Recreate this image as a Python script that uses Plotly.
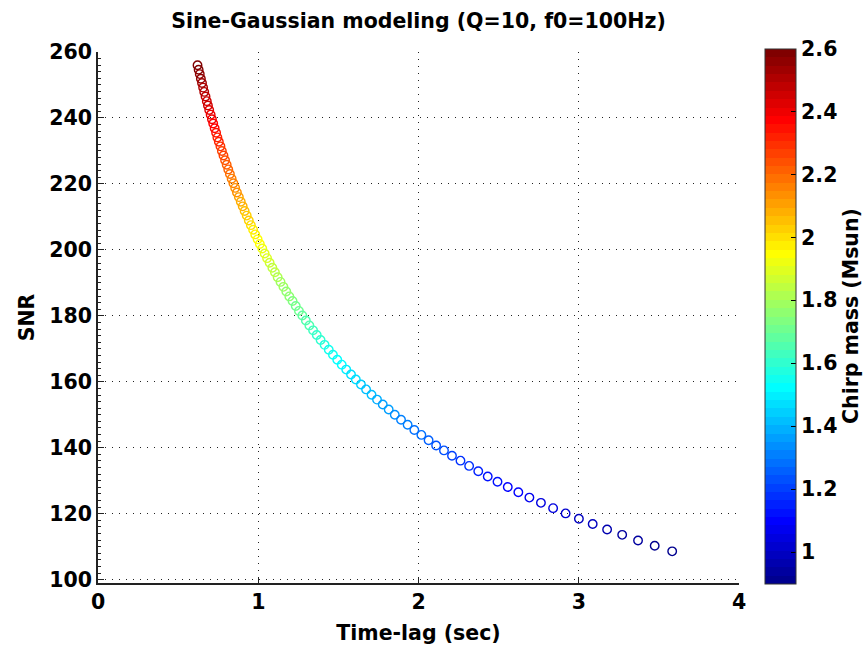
import plotly.graph_objects as go

# ---- data ----
time_lag = [
    0.621, 0.628, 0.635, 0.642, 0.649, 0.656, 0.663, 0.671, 0.679, 0.686,
    0.694, 0.703, 0.711, 0.719, 0.728, 0.737, 0.745, 0.754, 0.764, 0.773,
    0.783, 0.793, 0.803, 0.813, 0.823, 0.834, 0.845, 0.856, 0.867, 0.879,
    0.891, 0.903, 0.915, 0.928, 0.941, 0.954, 0.968, 0.981, 0.996, 1.010,
    1.025, 1.040, 1.055, 1.071, 1.088, 1.104, 1.121, 1.139, 1.157, 1.175,
    1.194, 1.214, 1.234, 1.254, 1.275, 1.297, 1.319, 1.342, 1.365, 1.389,
    1.414, 1.440, 1.466, 1.493, 1.521, 1.549, 1.579, 1.609, 1.641, 1.673,
    1.707, 1.741, 1.777, 1.814, 1.852, 1.891, 1.932, 1.974, 2.018, 2.063,
    2.110, 2.159, 2.209, 2.262, 2.316, 2.373, 2.432, 2.493, 2.557, 2.623,
    2.692, 2.764, 2.840, 2.918, 3.001, 3.087, 3.177, 3.271, 3.370, 3.474,
    3.583,
]

snr = [
    256.0, 254.6, 253.3, 251.9, 250.6, 249.2, 247.9, 246.5, 245.1, 243.8,
    242.4, 241.0, 239.6, 238.3, 236.9, 235.5, 234.1, 232.8, 231.4, 230.0,
    228.6, 227.2, 225.8, 224.4, 223.0, 221.6, 220.2, 218.8, 217.4, 216.0,
    214.6, 213.2, 211.8, 210.4, 208.9, 207.5, 206.1, 204.7, 203.2, 201.8,
    200.4, 198.9, 197.5, 196.1, 194.6, 193.2, 191.7, 190.3, 188.8, 187.4,
    185.9, 184.5, 183.0, 181.5, 180.1, 178.6, 177.1, 175.6, 174.2, 172.7,
    171.2, 169.7, 168.2, 166.7, 165.2, 163.7, 162.2, 160.7, 159.2, 157.7,
    156.1, 154.6, 153.1, 151.6, 150.0, 148.5, 147.0, 145.4, 143.9, 142.3,
    140.7, 139.2, 137.6, 136.1, 134.5, 132.9, 131.3, 129.7, 128.1, 126.5,
    124.9, 123.3, 121.7, 120.1, 118.5, 116.9, 115.2, 113.6, 111.9, 110.3,
    108.6,
]

chirp_mass = [
    2.600, 2.583, 2.566, 2.549, 2.532, 2.515, 2.498, 2.481, 2.464, 2.447,
    2.430, 2.413, 2.396, 2.379, 2.362, 2.345, 2.328, 2.311, 2.294, 2.277,
    2.260, 2.243, 2.226, 2.209, 2.192, 2.175, 2.158, 2.141, 2.124, 2.107,
    2.090, 2.073, 2.056, 2.039, 2.022, 2.005, 1.988, 1.971, 1.954, 1.937,
    1.920, 1.903, 1.886, 1.869, 1.852, 1.835, 1.818, 1.801, 1.784, 1.767,
    1.750, 1.733, 1.716, 1.699, 1.682, 1.665, 1.648, 1.631, 1.614, 1.597,
    1.580, 1.563, 1.546, 1.529, 1.512, 1.495, 1.478, 1.461, 1.444, 1.427,
    1.410, 1.393, 1.376, 1.359, 1.342, 1.325, 1.308, 1.291, 1.274, 1.257,
    1.240, 1.223, 1.206, 1.189, 1.172, 1.155, 1.138, 1.121, 1.104, 1.087,
    1.070, 1.053, 1.036, 1.019, 1.002, 0.985, 0.968, 0.951, 0.934, 0.917,
    0.900,
]

x_ticks = [0, 1, 2, 3, 4]
y_ticks = [100, 120, 140, 160, 180, 200, 220, 240, 260]
cbar_ticks = [1, 1.2, 1.4, 1.6, 1.8, 2, 2.2, 2.4, 2.6]
cbar_labels = ["1", "1.2", "1.4", "1.6", "1.8", "2", "2.2", "2.4", "2.6"]


# ---- MATLAB jet(64) colormap, as a stepped colour scale ----
def matlab_jet(m=64):
    n = -(-m // 4)
    u = [i / n for i in range(1, n + 1)] + [1.0] * (n - 1) + [i / n for i in range(n, 0, -1)]
    base = -(-n // 2) - (1 if m % 4 == 1 else 0)
    g = [base + i for i in range(1, len(u) + 1)]
    r = [v + n for v in g if v + n <= m]
    b = [v - n for v in g if v - n >= 1]
    g = [v for v in g if v <= m]
    J = [[0.0, 0.0, 0.0] for _ in range(m)]
    for i, row in enumerate(r):
        J[row - 1][0] = u[i]
    for i, row in enumerate(g):
        J[row - 1][1] = u[i]
    off = len(u) - len(b)
    for i, row in enumerate(b):
        J[row - 1][2] = u[off + i]
    return J


jet = matlab_jet(64)
colorscale = []
for i, (rr, gg, bb) in enumerate(jet):
    c = "rgb(%d,%d,%d)" % (round(rr * 255), round(gg * 255), round(bb * 255))
    colorscale.append([i / 64, c])
    colorscale.append([(i + 1) / 64, c])

FONT = dict(family="DejaVu Sans", size=20.5, color="black", weight="bold")

fig = go.Figure()
fig.add_trace(go.Scatter(
    x=time_lag, y=snr, mode="markers",
    marker=dict(
        symbol="circle-open", size=8.5,
        color=chirp_mass, colorscale=colorscale, cmin=0.9, cmax=2.6,
        line=dict(width=1.4),
        colorbar=dict(
            x=1.0406, xanchor="left", xpad=0,
            y=-0.001, yanchor="bottom", ypad=0,
            lenmode="pixels", len=535, thickness=31,
            outlinecolor="#333333", outlinewidth=1,
            ticks="inside", ticklen=5, tickcolor="black",
            tickvals=cbar_ticks, ticktext=cbar_labels,
            tickfont=FONT,
            title=dict(text="Chirp mass (Msun)", side="right", font=FONT),
        ),
    ),
    showlegend=False,
))

fig.update_layout(
    width=865, height=650,
    margin=dict(l=98, r=126, t=52, b=67, autoexpand=False),
    paper_bgcolor="white", plot_bgcolor="white",
    font=FONT,
    title=dict(text="Sine-Gaussian modeling (Q=10, f0=100Hz)",
               x=0.5, xref="paper", xanchor="center",
               y=1 - 21 / 650, yref="container", yanchor="middle",
               font=FONT),
)

grid = dict(showgrid=True, gridcolor="#222222", gridwidth=1, griddash="1px,6px",
            zeroline=False, showline=True, linecolor="#222222", linewidth=1.5,
            ticks="inside", ticklen=6, tickcolor="#222222", tickfont=FONT,
            automargin=False)

fig.update_xaxes(range=[0, 4], tickvals=x_ticks, title=dict(text="Time-lag (sec)", font=FONT, standoff=12),
                 **grid)
fig.update_yaxes(range=[99, 260], tickvals=y_ticks, title=dict(text="SNR", font=FONT, standoff=9),
                 minor=dict(ticks="inside", dtick=2, ticklen=3, tickcolor="#222222", showgrid=False),
                 **grid)

fig.write_html("out.html")
